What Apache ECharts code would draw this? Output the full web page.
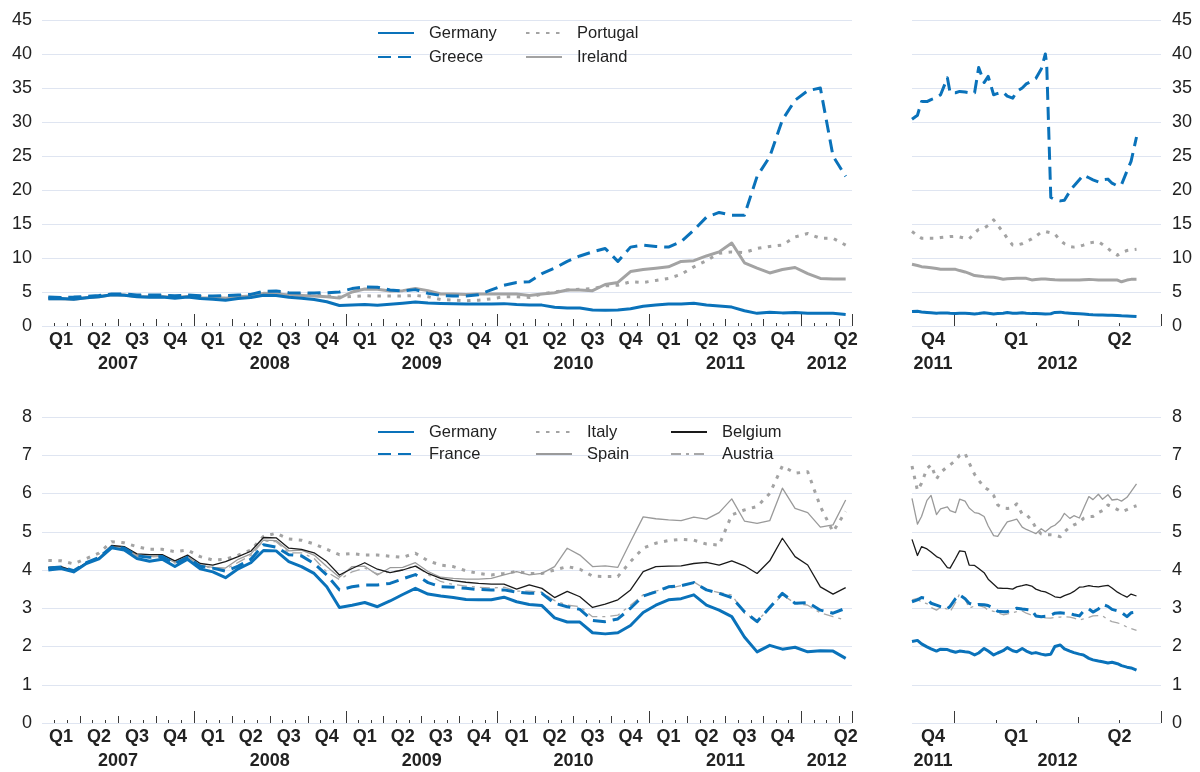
<!DOCTYPE html>
<html>
<head>
<meta charset="utf-8">
<script src="https://cdn.jsdelivr.net/npm/echarts@6/dist/echarts.min.js"></script>
<style>
  html, body { margin: 0; padding: 0; background: #fff; }
  #chart { width: 1200px; height: 772px; }
</style>
</head>
<body>
<div id="chart"></div>
<script>
// ---- Monthly averages, January 2007 to April 2012 (64 months, % yield) ----
const monthlyStartYear = 2007;
const monthlyYears = ['2007', '2008', '2009', '2010', '2011', '2012'];
const quarterNames = ['Q1', 'Q2', 'Q3', 'Q4'];

const germanyMonthly = [
  4.00, 4.04, 3.95, 4.17, 4.29, 4.58, 4.52, 4.30, 4.23, 4.28, 4.09, 4.28,
  4.03, 3.95, 3.80, 4.03, 4.19, 4.51, 4.50, 4.22, 4.09, 3.91, 3.56, 3.02,
  3.08, 3.15, 3.04, 3.19, 3.36, 3.52, 3.37, 3.32, 3.28, 3.23, 3.22, 3.22,
  3.29, 3.17, 3.10, 3.07, 2.75, 2.64, 2.64, 2.36, 2.33, 2.36, 2.55, 2.89,
  3.08, 3.22, 3.25, 3.35, 3.08, 2.95, 2.78, 2.25, 1.86, 2.03, 1.93, 1.98,
  1.86, 1.89, 1.88, 1.69
];
const greeceMonthly = [
  4.25, 4.20, 4.25, 4.35, 4.50, 4.70, 4.70, 4.55, 4.55, 4.55, 4.45, 4.55,
  4.45, 4.40, 4.45, 4.55, 4.65, 5.10, 5.15, 4.90, 4.85, 4.85, 4.90, 5.00,
  5.50, 5.75, 5.70, 5.30, 5.15, 5.35, 4.80, 4.50, 4.40, 4.40, 4.60, 5.30,
  6.00, 6.40, 6.50, 7.70, 8.50, 9.50, 10.30, 10.90, 11.40, 9.50, 11.60, 11.90,
  11.70, 11.60, 12.40, 14.10, 16.00, 16.70, 16.30, 16.30, 22.00, 24.90, 30.30, 33.20,
  34.60, 35.00, 25.00, 22.00
];
const portugalMonthly = [
  4.15, 4.15, 4.10, 4.25, 4.40, 4.65, 4.62, 4.45, 4.45, 4.45, 4.35, 4.45,
  4.35, 4.30, 4.30, 4.45, 4.55, 4.95, 4.95, 4.75, 4.70, 4.60, 4.45, 4.25,
  4.35, 4.45, 4.40, 4.40, 4.40, 4.50, 4.30, 3.90, 3.80, 3.70, 3.80, 4.00,
  4.30, 4.30, 4.20, 4.70, 5.00, 5.30, 5.40, 5.50, 5.90, 6.00, 6.50, 6.40,
  6.70, 7.00, 7.60, 8.70, 9.60, 10.70, 10.90, 10.80, 11.40, 11.70, 11.90, 13.10,
  13.60, 12.90, 12.90, 11.90
];
const irelandMonthly = [
  4.00, 4.00, 3.95, 4.15, 4.30, 4.60, 4.55, 4.35, 4.30, 4.35, 4.20, 4.35,
  4.15, 4.10, 4.10, 4.30, 4.40, 4.80, 4.75, 4.55, 4.50, 4.40, 4.30, 4.10,
  5.00, 5.45, 5.40, 5.15, 5.20, 5.50, 5.20, 4.70, 4.70, 4.65, 4.70, 4.70,
  4.70, 4.70, 4.50, 4.70, 4.90, 5.30, 5.30, 5.20, 6.10, 6.40, 8.00, 8.30,
  8.50, 8.70, 9.50, 9.60, 10.30, 10.90, 12.20, 9.30, 8.50, 7.80, 8.30, 8.60,
  7.70, 7.00, 6.90, 6.90
];
const franceMonthly = [
  4.05, 4.08, 3.98, 4.19, 4.33, 4.60, 4.57, 4.37, 4.33, 4.35, 4.17, 4.33,
  4.10, 4.05, 3.97, 4.10, 4.28, 4.66, 4.60, 4.40, 4.37, 4.17, 3.87, 3.48,
  3.56, 3.61, 3.61, 3.65, 3.77, 3.88, 3.67, 3.56, 3.55, 3.52, 3.49, 3.48,
  3.48, 3.42, 3.39, 3.39, 3.13, 3.04, 2.97, 2.68, 2.65, 2.72, 3.00, 3.32,
  3.43, 3.56, 3.59, 3.67, 3.48, 3.39, 3.28, 2.91, 2.65, 3.02, 3.39, 3.13,
  3.15, 2.95, 2.87, 3.00
];
const italyMonthly = [
  4.25, 4.24, 4.16, 4.30, 4.44, 4.74, 4.71, 4.61, 4.54, 4.54, 4.48, 4.52,
  4.35, 4.26, 4.28, 4.39, 4.52, 4.88, 4.96, 4.81, 4.78, 4.68, 4.54, 4.40,
  4.43, 4.39, 4.39, 4.36, 4.33, 4.44, 4.24, 4.13, 4.09, 3.98, 3.91, 3.87,
  3.91, 3.96, 3.91, 3.91, 4.00, 4.09, 4.02, 3.84, 3.83, 3.83, 4.22, 4.57,
  4.70, 4.77, 4.80, 4.78, 4.68, 4.65, 5.44, 5.57, 5.66, 6.00, 6.72, 6.53,
  6.57, 5.66, 5.00, 5.53
];
const spainMonthly = [
  4.05, 4.08, 3.98, 4.18, 4.30, 4.62, 4.58, 4.38, 4.36, 4.36, 4.20, 4.35,
  4.12, 4.07, 4.05, 4.28, 4.42, 4.78, 4.77, 4.50, 4.52, 4.39, 4.09, 3.81,
  4.09, 4.10, 3.87, 4.06, 4.07, 4.19, 3.96, 3.81, 3.78, 3.76, 3.76, 3.78,
  3.87, 3.96, 3.87, 3.91, 4.09, 4.57, 4.39, 4.09, 4.11, 4.07, 4.74, 5.39,
  5.34, 5.31, 5.29, 5.38, 5.33, 5.50, 5.86, 5.28, 5.22, 5.29, 6.14, 5.61,
  5.50, 5.12, 5.18, 5.83
];
const belgiumMonthly = [
  4.07, 4.09, 3.98, 4.19, 4.31, 4.64, 4.61, 4.42, 4.40, 4.40, 4.24, 4.39,
  4.17, 4.13, 4.22, 4.35, 4.49, 4.85, 4.84, 4.57, 4.54, 4.45, 4.22, 3.87,
  4.04, 4.19, 4.02, 3.93, 4.00, 4.10, 3.91, 3.78, 3.72, 3.68, 3.65, 3.63,
  3.63, 3.50, 3.61, 3.52, 3.28, 3.44, 3.30, 3.02, 3.11, 3.22, 3.48, 3.96,
  4.09, 4.10, 4.11, 4.17, 4.20, 4.13, 4.24, 4.11, 3.91, 4.24, 4.83, 4.35,
  4.13, 3.56, 3.37, 3.54
];
const austriaMonthly = [
  4.06, 4.08, 3.97, 4.18, 4.30, 4.61, 4.57, 4.36, 4.34, 4.36, 4.18, 4.35,
  4.10, 4.05, 4.02, 4.20, 4.38, 4.76, 4.74, 4.45, 4.45, 4.30, 3.95, 3.75,
  3.95, 4.05, 3.90, 3.95, 4.00, 4.12, 3.88, 3.70, 3.62, 3.58, 3.55, 3.53,
  3.55, 3.45, 3.45, 3.42, 3.20, 3.08, 3.04, 2.78, 2.78, 2.82, 3.08, 3.35,
  3.45, 3.52, 3.59, 3.69, 3.48, 3.41, 3.35, 2.87, 2.67, 3.00, 3.35, 3.13,
  3.08, 2.88, 2.78, 2.69
];

// ---- Daily observations, December 2011 to mid-May 2012 ----
const dailyDates = [
  '2011-12-01', '2011-12-05', '2011-12-08', '2011-12-12', '2011-12-15', '2011-12-19', '2011-12-22', '2011-12-27', '2011-12-29',
  '2012-01-02', '2012-01-05', '2012-01-09', '2012-01-12', '2012-01-16', '2012-01-19', '2012-01-23', '2012-01-26', '2012-01-30',
  '2012-02-02', '2012-02-06', '2012-02-09', '2012-02-13', '2012-02-16', '2012-02-20', '2012-02-23', '2012-02-27',
  '2012-03-01', '2012-03-05', '2012-03-08', '2012-03-09', '2012-03-12', '2012-03-15', '2012-03-19', '2012-03-22', '2012-03-26', '2012-03-29',
  '2012-04-02', '2012-04-05', '2012-04-09', '2012-04-12', '2012-04-16', '2012-04-19', '2012-04-23', '2012-04-26', '2012-04-30',
  '2012-05-03', '2012-05-07', '2012-05-10', '2012-05-14'
];
const germanyDaily = [
  2.13, 2.16, 2.07, 1.99, 1.94, 1.88, 1.93, 1.92, 1.89,
  1.85, 1.88, 1.86, 1.85, 1.78, 1.83, 1.95, 1.88, 1.78,
  1.83, 1.89, 1.97, 1.89, 1.86, 1.95, 1.88, 1.82,
  1.84, 1.80, 1.78, 1.78, 1.80, 2.00, 2.04, 1.94, 1.88, 1.84,
  1.80, 1.78, 1.69, 1.65, 1.62, 1.60, 1.57, 1.59, 1.55,
  1.50, 1.46, 1.44, 1.38
];
const greeceDaily = [
  30.4, 31.0, 33.0, 33.0, 33.3, 33.6, 34.0, 36.5, 34.3,
  34.3, 34.5, 34.4, 34.3, 34.3, 38.0, 35.8, 36.7, 34.0,
  34.2, 34.4, 33.8, 33.5, 34.5, 35.0, 35.6, 36.0,
  36.4, 37.8, 40.0, 38.5, 18.9, 18.6, 18.4, 18.5, 19.8, 20.6,
  21.5, 22.2, 21.8, 21.5, 21.2, 21.5, 21.6, 21.0, 20.6,
  20.8, 22.8, 24.2, 27.8
];
const portugalDaily = [
  13.9, 13.3, 12.9, 12.9, 12.9, 12.9, 13.0, 13.1, 13.15,
  13.2, 13.1, 12.9, 12.8, 13.7, 14.2, 14.4, 14.8, 15.6,
  14.8, 13.8, 12.9, 11.9, 11.9, 12.1, 12.4, 12.8,
  13.2, 13.8, 13.9, 13.8, 13.7, 13.5, 12.6, 12.1, 11.7, 11.6,
  11.7, 11.9, 12.2, 12.3, 12.4, 12.0, 11.4, 10.9, 10.4,
  10.8, 11.1, 11.2, 11.3
];
const irelandDaily = [
  9.07, 8.90, 8.73, 8.65, 8.58, 8.45, 8.35, 8.33, 8.33,
  8.33, 8.15, 7.95, 7.75, 7.42, 7.35, 7.26, 7.22, 7.17,
  7.05, 6.88, 6.95, 7.00, 7.02, 7.02, 7.01, 6.78,
  6.85, 6.90, 6.91, 6.91, 6.85, 6.80, 6.77, 6.76, 6.76, 6.76,
  6.77, 6.80, 6.85, 6.82, 6.78, 6.76, 6.76, 6.76, 6.76,
  6.50, 6.75, 6.86, 6.86
];
const franceDaily = [
  3.17, 3.22, 3.28, 3.26, 3.13, 3.08, 3.04, 2.99, 3.05,
  3.25, 3.35, 3.25, 3.13, 3.08, 3.10, 3.09, 3.07, 3.00,
  2.92, 2.91, 2.91, 2.96, 3.00, 2.98, 2.97, 2.95,
  2.80, 2.78, 2.79, 2.80, 2.82, 2.87, 2.88, 2.87, 2.86, 2.83,
  2.80, 2.92, 2.98, 2.90, 2.98, 3.10, 3.05, 2.97, 2.93,
  2.89, 2.78, 2.88, 2.90
];
const italyDaily = [
  6.72, 6.08, 6.27, 6.65, 6.75, 6.38, 6.55, 6.70, 6.75,
  6.86, 7.00, 7.05, 6.80, 6.50, 6.35, 6.16, 6.10, 5.95,
  5.70, 5.62, 5.61, 5.63, 5.73, 5.46, 5.45, 5.30,
  5.10, 4.94, 4.92, 4.92, 4.92, 4.91, 4.87, 5.00, 5.12, 5.18,
  5.24, 5.35, 5.40, 5.40, 5.50, 5.55, 5.70, 5.65, 5.58,
  5.52, 5.58, 5.63, 5.68
];
const spainDaily = [
  5.87, 5.20, 5.40, 5.82, 5.95, 5.45, 5.60, 5.65, 5.55,
  5.50, 5.85, 5.80, 5.62, 5.50, 5.48, 5.40, 5.15, 4.90,
  4.88, 5.10, 5.26, 5.30, 5.33, 5.12, 5.06, 5.00,
  4.95, 5.08, 5.00, 4.96, 5.12, 5.17, 5.30, 5.48, 5.35, 5.42,
  5.36, 5.60, 5.92, 5.84, 5.98, 5.85, 5.97, 5.83, 5.85,
  5.80, 5.90, 6.05, 6.25
];
const belgiumDaily = [
  4.80, 4.38, 4.61, 4.55, 4.47, 4.35, 4.30, 4.06, 4.05,
  4.30, 4.50, 4.48, 4.13, 4.12, 4.04, 3.93, 3.76, 3.63,
  3.53, 3.52, 3.52, 3.50, 3.56, 3.59, 3.62, 3.58,
  3.50, 3.45, 3.43, 3.42, 3.36, 3.30, 3.28, 3.33, 3.38, 3.44,
  3.55, 3.56, 3.59, 3.57, 3.56, 3.58, 3.60, 3.53, 3.42,
  3.36, 3.29, 3.37, 3.32
];
const austriaDaily = [
  3.22, 3.26, 3.15, 3.12, 3.02, 2.95, 3.02, 2.98, 2.91,
  3.15, 3.38, 3.25, 3.00, 3.06, 3.07, 3.03, 2.95, 2.92,
  2.88, 2.83, 2.85, 2.88, 2.91, 2.93, 2.87, 2.82,
  2.79, 2.76, 2.75, 2.75, 2.74, 2.76, 2.77, 2.78, 2.77, 2.74,
  2.69, 2.72, 2.76, 2.80, 2.81, 2.80, 2.70, 2.65, 2.62,
  2.58, 2.51, 2.47, 2.42
];

// Daily panel time span and month boundaries
const dailyStart = '2011-12-01';
const dailyEnd = '2012-06-01';
const dailyMonthStarts = ['2012-01-01', '2012-02-01', '2012-03-01', '2012-04-01', '2012-05-01', '2012-06-01'];
const dailyQuarterNames = ['Q4', 'Q1', 'Q2'];
const dailyYearNames = ['2011', '2012'];

// ---- helpers ----
const DAY = 86400000;
function toUTC(s) { const p = s.split('-').map(Number); return Date.UTC(p[0], p[1] - 1, p[2]); }
function dayIndex(s) { return (toUTC(s) - toUTC(dailyStart)) / DAY; }

const monthCount = germanyMonthly.length;          // 64 months shown
const monthlyMax = monthCount;                      // axis ends at 1 May 2012
function monthlyPairs(arr) { return arr.map((v, i) => [i + 0.5, v]); }
function dailyPairs(arr) { return arr.map((v, i) => [dayIndex(dailyDates[i]), v]); }

const BLUE = '#0a72ba';
const GREY = '#a3a3a3';
const FONT = "'Liberation Sans', Arial, Helvetica, sans-serif";

// Monthly axis: tick groups and label positions
const mShort = [], mQuarter = [], mYear = [];
for (let k = 1; k <= monthlyMax; k++) {
  if (k === monthlyMax || k % 12 === 0) mYear.push(k);
  else if (k % 3 === 0) mQuarter.push(k);
  else mShort.push(k);
}
const mQLabelPos = [], mQLabelText = [], mYLabelPos = [], mYLabelText = [];
monthlyYears.forEach((y, yi) => {
  const yStart = yi * 12;
  const yEnd = Math.min(yStart + 12, monthlyMax);
  quarterNames.forEach((q, qi) => {
    const a = yStart + qi * 3, b = Math.min(a + 3, monthlyMax);
    if (a >= monthlyMax) return;
    if (yStart + 12 > monthlyMax && qi === 0) return; // first quarter of the partial year is left unlabelled
    mQLabelPos.push((a + b) / 2); mQLabelText.push(q);
  });
  mYLabelPos.push((yStart + yEnd) / 2); mYLabelText.push(y);
});

// Daily axis: tick groups and label positions
const dMax = dayIndex(dailyEnd);
const dBounds = dailyMonthStarts.map(dayIndex);
const dYear = [dBounds[0], dBounds[5]];
const dQuarter = [dBounds[3]];
const dShort = [dBounds[1], dBounds[2], dBounds[4]];
const dQLabelPos = [(0 + dBounds[0]) / 2, (dBounds[0] + dBounds[3]) / 2, (dBounds[3] + dMax) / 2];
const dYLabelPos = [(0 + dBounds[0]) / 2, (dBounds[0] + dMax) / 2];

const xAxes = [];
function addBottomAxes(grid, max, ticks, labels) {
  const first = xAxes.length;
  ticks.forEach(t => xAxes.push({
    type: 'value', gridIndex: grid, position: 'bottom', min: 0, max: max,
    axisLine: { show: false }, splitLine: { show: false }, axisLabel: { show: false },
    axisTick: { show: true, inside: true, length: t.length, customValues: t.values,
                lineStyle: { color: '#3a3a3a', width: 1 } }
  }));
  labels.forEach(l => {
    const lookup = new Map(l.values.map((v, i) => [v, l.text[i]]));
    xAxes.push({
      type: 'value', gridIndex: grid, position: 'bottom', min: 0, max: max,
      axisLine: { show: false }, splitLine: { show: false }, axisTick: { show: false },
      axisLabel: { show: true, customValues: l.values, margin: l.margin,
                   fontFamily: FONT, fontSize: 18, fontWeight: 'bold', color: '#222', lineHeight: 18,
                   formatter: v => lookup.has(v) ? lookup.get(v) : '' }
    });
  });
  return first;
}
function monthlyAxes(grid) {
  return addBottomAxes(grid, monthlyMax,
    [{ values: mShort, length: 3 }, { values: mQuarter, length: 7 }, { values: mYear, length: 12 }],
    [{ values: mQLabelPos, text: mQLabelText, margin: 5 }, { values: mYLabelPos, text: mYLabelText, margin: 29 }]);
}
function dailyAxes(grid) {
  return addBottomAxes(grid, dMax,
    [{ values: dShort, length: 3 }, { values: dQuarter, length: 6 }, { values: dYear, length: 12 }],
    [{ values: dQLabelPos, text: dailyQuarterNames, margin: 5 }, { values: dYLabelPos, text: dailyYearNames, margin: 29 }]);
}

const xTL = monthlyAxes(0);
const xTR = dailyAxes(1);
const xBL = monthlyAxes(2);
const xBR = dailyAxes(3);

function yAxis(grid, max, interval, side) {
  return {
    type: 'value', gridIndex: grid, min: 0, max: max, interval: interval, position: side,
    axisLine: { show: false }, axisTick: { show: false },
    axisLabel: { fontFamily: FONT, fontSize: 18, color: '#222', margin: side === 'left' ? 10 : 11 },
    splitLine: { show: true, lineStyle: { color: '#dfe5f1', width: 1 } }
  };
}

function line(name, data, xIdx, yIdx, color, width, dash, z) {
  return {
    type: 'line', name: name, data: data, xAxisIndex: xIdx, yAxisIndex: yIdx,
    showSymbol: false, symbol: 'none', smooth: false, silent: true, z: z,
    lineStyle: { color: color, width: width, type: dash || 'solid', cap: 'butt', join: 'round' },
    itemStyle: { color: color }
  };
}

const DASH = [13, 7];
const DOT = [3.5, 6.5];
const DASHDOT = [10, 5, 3, 5];

const series = [
  // top-left: monthly
  line('Portugal', monthlyPairs(portugalMonthly), xTL, 0, GREY, 3, DOT, 2),
  line('Ireland', monthlyPairs(irelandMonthly), xTL, 0, GREY, 3, null, 3),
  line('Greece', monthlyPairs(greeceMonthly), xTL, 0, BLUE, 3, DASH, 4),
  line('Germany', monthlyPairs(germanyMonthly), xTL, 0, BLUE, 3, null, 5),
  // top-right: daily
  line('Portugal', dailyPairs(portugalDaily), xTR, 1, GREY, 3, DOT, 2),
  line('Ireland', dailyPairs(irelandDaily), xTR, 1, GREY, 3, null, 3),
  line('Greece', dailyPairs(greeceDaily), xTR, 1, BLUE, 3, DASH, 4),
  line('Germany', dailyPairs(germanyDaily), xTR, 1, BLUE, 3, null, 5),
  // bottom-left: monthly
  line('Italy', monthlyPairs(italyMonthly), xBL, 2, GREY, 3, DOT, 2),
  line('Spain', monthlyPairs(spainMonthly), xBL, 2, '#9a9a9a', 1.3, null, 2),
  line('Austria', monthlyPairs(austriaMonthly), xBL, 2, '#a8a8a8', 1.3, DASHDOT, 2),
  line('Belgium', monthlyPairs(belgiumMonthly), xBL, 2, '#1a1a1a', 1.3, null, 3),
  line('France', monthlyPairs(franceMonthly), xBL, 2, BLUE, 3, DASH, 4),
  line('Germany', monthlyPairs(germanyMonthly), xBL, 2, BLUE, 3, null, 5),
  // bottom-right: daily
  line('Italy', dailyPairs(italyDaily), xBR, 3, GREY, 3, DOT, 2),
  line('Spain', dailyPairs(spainDaily), xBR, 3, '#9a9a9a', 1.3, null, 2),
  line('Austria', dailyPairs(austriaDaily), xBR, 3, '#a8a8a8', 1.3, DASHDOT, 2),
  line('Belgium', dailyPairs(belgiumDaily), xBR, 3, '#1a1a1a', 1.3, null, 3),
  line('France', dailyPairs(franceDaily), xBR, 3, BLUE, 3, DASH, 4),
  line('Germany', dailyPairs(germanyDaily), xBR, 3, BLUE, 3, null, 5)
];

// Legend keys show only the line sample (the marker dot is made invisible)
function legend(names, left, top, gap) {
  return {
    data: names, left: left, top: top, orient: 'vertical', padding: 0,
    itemWidth: 36, itemHeight: 20, itemGap: gap, selectedMode: false,
    itemStyle: { color: 'rgba(0,0,0,0)', borderWidth: 0, opacity: 0 },
    textStyle: { fontFamily: FONT, fontSize: 16.5, color: '#222', lineHeight: 20, padding: [0, 0, 0, 10] }
  };
}

const option = {
  animation: false,
  backgroundColor: '#ffffff',
  textStyle: { fontFamily: FONT },
  grid: [
    { left: 42, top: 20, width: 810, height: 306, containLabel: false, outerBoundsMode: 'none' },
    { left: 912, top: 20, width: 249, height: 306, containLabel: false, outerBoundsMode: 'none' },
    { left: 42, top: 417, width: 810, height: 306, containLabel: false, outerBoundsMode: 'none' },
    { left: 912, top: 417, width: 249, height: 306, containLabel: false, outerBoundsMode: 'none' }
  ],
  xAxis: xAxes,
  yAxis: [
    yAxis(0, 45, 5, 'left'),
    yAxis(1, 45, 5, 'right'),
    yAxis(2, 8, 1, 'left'),
    yAxis(3, 8, 1, 'right')
  ],
  legend: [
    legend(['Germany', 'Greece'], 377, 23, 4),
    legend(['Portugal', 'Ireland'], 525, 23, 4),
    legend(['Germany', 'France'], 377, 422, 2),
    legend(['Italy', 'Spain'], 535, 422, 2),
    legend(['Belgium', 'Austria'], 670, 422, 2)
  ],
  series: series
};

const chart = echarts.init(document.getElementById('chart'), null, { renderer: 'canvas' });
chart.setOption(option);
</script>
</body>
</html>
